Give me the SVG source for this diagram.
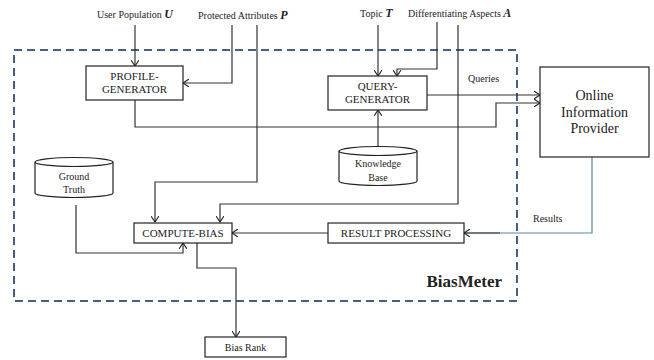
<svg xmlns="http://www.w3.org/2000/svg" width="654" height="360" viewBox="0 0 654 360">
<style>
  .lbl { font-size: 10px; }
  .box { font-size: 11px; text-anchor: middle; }
  .big { font-size: 14px; text-anchor: middle; }
  .node { fill: #fff; stroke: #222; stroke-width: 1.2; }
  .conn { fill: none; stroke: #333; stroke-width: 1.2; }
  .blue { fill: none; stroke: #5b84a8; stroke-width: 1.2; }
  .frame { fill: none; stroke: #44607f; stroke-width: 2; stroke-dasharray: 8 5; }
</style>
<defs>
  <marker id="arr" markerWidth="8" markerHeight="8" refX="6" refY="4" orient="auto" markerUnits="userSpaceOnUse">
    <path d="M0,0 L6,4 L0,8" fill="none" stroke="#222" stroke-width="1.1"/>
  </marker>
</defs>
<rect width="654" height="360" fill="#fff"/>
<g font-family="Liberation Serif, serif" fill="#222">

<g id="biasmeter-frame">
  <rect class="frame" x="14" y="50" width="503" height="251"/>
  <text x="502" y="287" text-anchor="end" font-size="17" font-weight="bold">BiasMeter</text>
</g>

<g id="inputs">
  <text class="lbl" x="97" y="18">User Population <tspan font-weight="bold" font-style="italic" font-size="12">U</tspan></text>
  <text class="lbl" x="198" y="19">Protected Attributes <tspan font-weight="bold" font-style="italic" font-size="12">P</tspan></text>
  <text class="lbl" x="360" y="17">Topic <tspan font-weight="bold" font-style="italic" font-size="12">T</tspan></text>
  <text class="lbl" x="408" y="17">Differentiating Aspects <tspan font-weight="bold" font-style="italic" font-size="12">A</tspan></text>
</g>

<g id="connectors">
  <path class="conn" d="M135,25 V66" marker-end="url(#arr)"/>
  <path class="conn" d="M232,25 V83 H183" marker-end="url(#arr)"/>
  <path class="conn" d="M257,25 V182 H155 V222" marker-end="url(#arr)"/>
  <path class="conn" d="M378,25 V76" marker-end="url(#arr)"/>
  <path class="conn" d="M437,22 V69 H397 V76" marker-end="url(#arr)"/>
  <path class="conn" d="M458,25 V204 H220 V222" marker-end="url(#arr)"/>
  <path class="conn" d="M135,100 V127 H496 V103 H540" marker-end="url(#arr)"/>
  <path class="conn" d="M427,95 H540" marker-end="url(#arr)"/>
  <path class="conn" d="M378,147 V110" marker-end="url(#arr)"/>
  <path class="blue" d="M592,157 V233 H464" />
  <path class="conn" d="M500,233 H464" marker-end="url(#arr)"/>
  <path class="conn" d="M328,233 H232" marker-end="url(#arr)"/>
  <path class="conn" d="M76,205 V253 H183 V243" marker-end="url(#arr)"/>
  <path class="conn" d="M197,243 V268 H236 V337" marker-end="url(#arr)"/>
  <text class="lbl" x="468" y="82">Queries</text>
  <text class="lbl" x="533" y="222">Results</text>
</g>

<g id="profile-generator">
  <rect class="node" x="86" y="66" width="97" height="34"/>
  <text class="box" x="134.5" y="80">PROFILE-</text>
  <text class="box" x="134.5" y="93">GENERATOR</text>
</g>

<g id="query-generator">
  <rect class="node" x="328" y="76" width="99" height="34"/>
  <text class="box" x="377.5" y="90">QUERY-</text>
  <text class="box" x="377.5" y="103">GENERATOR</text>
</g>

<g id="online-information-provider">
  <rect class="node" x="540" y="67" width="109" height="90"/>
  <text class="big" x="594.5" y="100">Online</text>
  <text class="big" x="594.5" y="117">Information</text>
  <text class="big" x="594.5" y="133">Provider</text>
</g>

<g id="knowledge-base">
  <path class="node" d="M339,151 V181 A39,4.5 0 0 0 417,181 V151"/>
  <ellipse class="node" cx="378" cy="151" rx="39" ry="4.5"/>
  <text class="lbl" x="378" y="167" text-anchor="middle">Knowledge</text>
  <text class="lbl" x="378" y="181" text-anchor="middle">Base</text>
</g>

<g id="ground-truth">
  <path class="node" d="M35,162 V193 A39,4.5 0 0 0 113,193 V162"/>
  <ellipse class="node" cx="74" cy="162" rx="39" ry="4.5"/>
  <text class="lbl" x="74" y="180" text-anchor="middle">Ground</text>
  <text class="lbl" x="74" y="193" text-anchor="middle">Truth</text>
</g>

<g id="compute-bias">
  <rect class="node" x="134" y="223" width="98" height="20"/>
  <text class="box" x="183" y="237">COMPUTE-BIAS</text>
</g>

<g id="result-processing">
  <rect class="node" x="328" y="223" width="136" height="20"/>
  <text class="box" x="396" y="237">RESULT PROCESSING</text>
</g>

<g id="bias-rank">
  <rect class="node" x="205" y="337" width="81" height="20"/>
  <text class="lbl" x="245.5" y="351" text-anchor="middle">Bias Rank</text>
</g>
</g>
</svg>
